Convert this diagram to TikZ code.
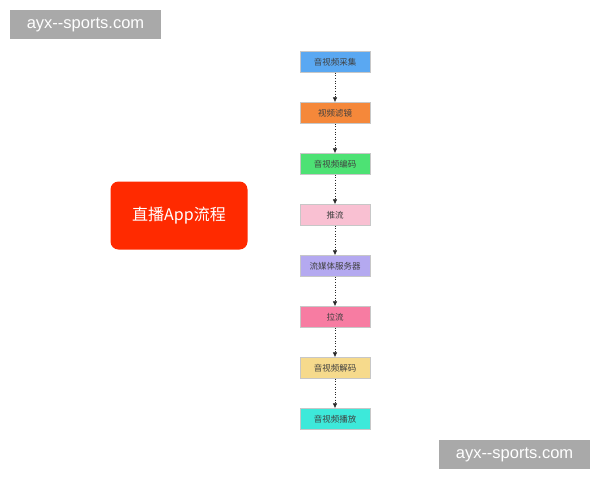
\documentclass[tikz,border=0pt]{standalone}
\usepackage{fontspec}
\setmainfont{Liberation Sans}
\newfontfamily\cjk{Noto Sans CJK SC}
\usetikzlibrary{arrows.meta}
\definecolor{cA}{HTML}{5AA8F2}
\definecolor{cB}{HTML}{F5883A}
\definecolor{cC}{HTML}{4DE274}
\definecolor{cD}{HTML}{F9C0D2}
\definecolor{cE}{HTML}{B4A9F0}
\definecolor{cF}{HTML}{F77CA2}
\definecolor{cG}{HTML}{F6DA8C}
\definecolor{cH}{HTML}{3DE9DA}
\definecolor{redbox}{HTML}{FF2A00}
\definecolor{wm}{HTML}{A9A9A9}
\definecolor{txt}{HTML}{404040}
\tikzset{
  stepbox/.style={draw=black!22, line width=0.5pt, minimum width=70pt, minimum height=21pt,
    inner sep=0pt, font=\cjk\fontsize{8.5}{9}\selectfont, text=txt},
  flow/.style={draw=black!85, line width=0.6pt, dotted, -{Latex[length=5pt,width=4.5pt]}},
  wmbox/.style={fill=wm, minimum width=151pt, minimum height=29pt, inner sep=0pt,
    text=white, font=\fontsize{16.5}{17}\selectfont},
}
\begin{document}
\begin{tikzpicture}[x=1pt,y=-1pt]
\useasboundingbox (0,0) rectangle (600,480);
\fill[white] (0,0) rectangle (600,480);
\node[wmbox] (wm1) at (85.5,24.5) {ayx{-}{-}sports.com};
\node[wmbox] (wm2) at (514.5,454.5) {ayx{-}{-}sports.com};
\node[fill=redbox, rounded corners=8pt, minimum width=137pt, minimum height=68pt, inner sep=0pt,
  text=white, font=\cjk\fontsize{16}{18}\selectfont] (title) at (179,215.5) {直播App流程};
\node[stepbox, fill=cA] (s1) at (335,62) {音视频采集};
\node[stepbox, fill=cB] (s2) at (335,113) {视频滤镜};
\node[stepbox, fill=cC] (s3) at (335,164) {音视频编码};
\node[stepbox, fill=cD] (s4) at (335,215) {推流};
\node[stepbox, fill=cE] (s5) at (335,266) {流媒体服务器};
\node[stepbox, fill=cF] (s6) at (335,317) {拉流};
\node[stepbox, fill=cG] (s7) at (335,368) {音视频解码};
\node[stepbox, fill=cH] (s8) at (335,419) {音视频播放};
\foreach \a/\b in {s1/s2,s2/s3,s3/s4,s4/s5,s5/s6,s6/s7,s7/s8}
  \draw[flow] (\a.south) -- (\b.north);
\end{tikzpicture}
\end{document}
